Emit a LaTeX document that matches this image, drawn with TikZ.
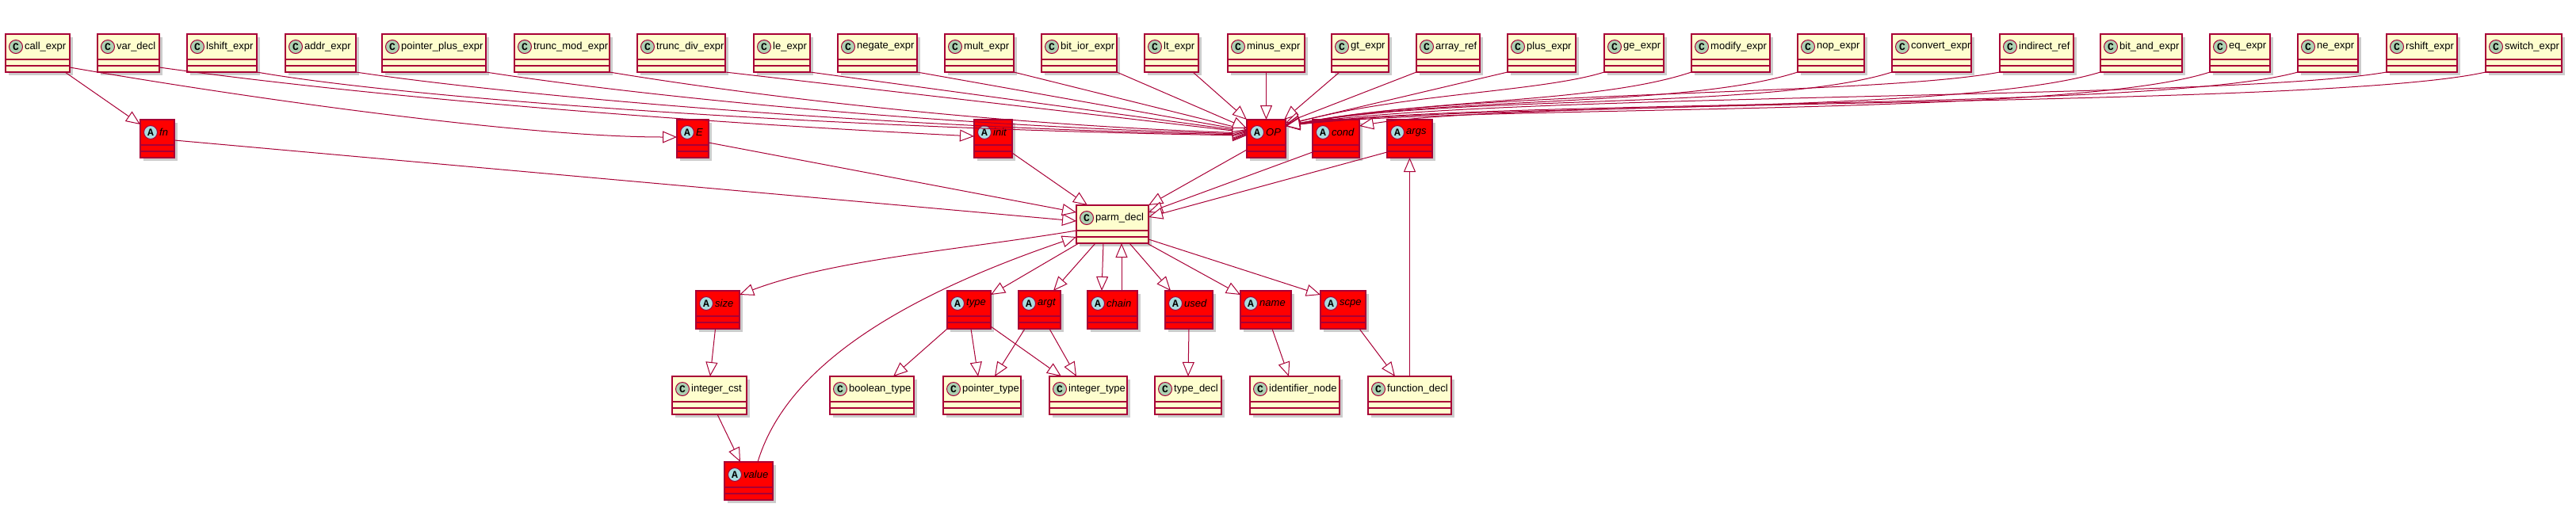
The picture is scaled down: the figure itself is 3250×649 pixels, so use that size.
\documentclass[tikz,border=0pt]{standalone}
\usepackage{fontspec}
\setmainfont{Liberation Sans}
\setmonofont{Liberation Mono}
\usetikzlibrary{arrows.meta,shadows}
\definecolor{umlred}{HTML}{A80036}
\definecolor{clsfill}{HTML}{FEFECE}
\definecolor{absfill}{HTML}{FF0000}
\definecolor{cgreen}{HTML}{ADD1B2}
\definecolor{ablue}{HTML}{A9DCDF}
\newcommand\lblfont{\fontsize{13}{15}\selectfont}
\newcommand\letfont{\fontsize{13}{13}\selectfont\ttfamily\bfseries}
\tikzset{
 boxbase/.style={rectangle, draw=umlred, line width=1.5pt, minimum height=48, inner sep=0, outer sep=0,
   drop shadow={shadow xshift=4pt, shadow yshift=-4pt, fill=black!40, opacity=0.5}},
 clsbox/.style={boxbase, fill=clsfill},
 absbox/.style={boxbase, fill=absfill},
 bline/.style={draw=umlred, line width=1.5pt},
 letc/.style={circle, draw=umlred, line width=1pt, fill=cgreen, minimum size=17, inner sep=0, font=\letfont},
 leta/.style={letc, fill=ablue},
 clslbl/.style={anchor=west, inner sep=0, font=\lblfont},
 abslbl/.style={anchor=west, inner sep=0, font=\lblfont\itshape},
 ext/.style={draw=umlred, line width=1pt, -{Triangle[length=18pt,width=15pt,fill=white]}},
}
\newcommand\boxlines[1]{%
  \draw[bline] ([yshift=-32]#1.north west) -- ([yshift=-32]#1.north east)
    ([yshift=-40]#1.north west) -- ([yshift=-40]#1.north east);}
\newcommand\cnode[5]{%
  \node[clsbox, minimum width={#3-#2}, anchor=north west] (#1) at (#2,#4) {};
  \boxlines{#1}%
  \node[letc] (#1c) at ([xshift=13,yshift=-16]#1.north west) {C};
  \node[clslbl] (#1t) at ([xshift=24,yshift=-16]#1.north west) {#5};}
\newcommand\anode[5]{%
  \node[absbox, minimum width={#3-#2}, anchor=north west] (#1) at (#2,#4) {};
  \boxlines{#1}%
  \node[leta] (#1c) at ([xshift=13,yshift=-16]#1.north west) {A};
  \node[abslbl] (#1t) at ([xshift=24,yshift=-16]#1.north west) {#5};}
\begin{document}
\begin{tikzpicture}[x=1pt,y=-1pt]
\useasboundingbox (0,0) rectangle (3250,649);
% top row
\cnode{callexpr}{7}{88}{43}{call\_expr}
\cnode{vardecl}{123}{201}{43}{var\_decl}
\cnode{lshift}{236}{324}{43}{lshift\_expr}
\cnode{addr}{360}{449}{43}{addr\_expr}
\cnode{ptrplus}{482}{613}{43}{pointer\_plus\_expr}
\cnode{truncmod}{649}{769}{43}{trunc\_mod\_expr}
\cnode{truncdiv}{804}{915}{43}{trunc\_div\_expr}
\cnode{leexpr}{951}{1022}{43}{le\_expr}
\cnode{negate}{1057}{1157}{43}{negate\_expr}
\cnode{mult}{1192}{1279}{43}{mult\_expr}
\cnode{bitior}{1314}{1409}{43}{bit\_ior\_expr}
\cnode{ltexpr}{1444}{1512}{43}{lt\_expr}
\cnode{minus}{1549}{1646}{43}{minus\_expr}
\cnode{gtexpr}{1680}{1752}{43}{gt\_expr}
\cnode{arrayref}{1787}{1867}{43}{array\_ref}
\cnode{plus}{1902}{1988}{43}{plus\_expr}
\cnode{geexpr}{2024}{2099}{43}{ge\_expr}
\cnode{modify}{2134}{2233}{43}{modify\_expr}
\cnode{nop}{2268}{2352}{43}{nop\_expr}
\cnode{convert}{2387}{2487}{43}{convert\_expr}
\cnode{indirect}{2523}{2616}{43}{indirect\_ref}
\cnode{bitand}{2650}{2753}{43}{bit\_and\_expr}
\cnode{eqexpr}{2788}{2864}{43}{eq\_expr}
\cnode{neexpr}{2899}{2975}{43}{ne\_expr}
\cnode{rshift}{3011}{3100}{43}{rshift\_expr}
\cnode{switch}{3136}{3232}{43}{switch\_expr}
% second row
\anode{fn}{177}{220}{151}{fn}
\anode{E}{854}{894}{151}{E}
\anode{init}{1229}{1277}{151}{init}
\anode{OP}{1573}{1622}{151}{OP}
\anode{cond}{1656}{1715}{151}{cond}
\anode{args}{1750}{1807}{151}{args}
% parm_decl
\cnode{parmdecl}{1358}{1449}{259}{parm\_decl}
% third row
\anode{size}{878}{933}{367}{size}
\anode{type}{1195}{1250}{367}{type}
\anode{argt}{1285}{1338}{367}{argt}
\anode{chain}{1372}{1435}{367}{chain}
\anode{used}{1470}{1530}{367}{used}
\anode{name}{1565}{1629}{367}{name}
\anode{scpe}{1666}{1723}{367}{scpe}
% fourth row
\cnode{intcst}{848}{942}{475}{integer\_cst}
\cnode{booltype}{1047}{1153}{475}{boolean\_type}
\cnode{ptrtype}{1190}{1288}{475}{pointer\_type}
\cnode{inttype}{1324}{1422}{475}{integer\_type}
\cnode{typedecl}{1457}{1541}{475}{type\_decl}
\cnode{ident}{1577}{1690}{475}{identifier\_node}
\cnode{fundecl}{1726}{1831}{475}{function\_decl}
% fifth row
\anode{value}{914}{975}{583}{value}

% edges: top row
\draw[ext] ([xshift=-6]callexpr.south east) -- ([yshift=-6]fn.north west);
\draw[ext] ([yshift=-18]callexpr.east) .. controls +(200,35) and +(-200,0) .. ([yshift=2]E.west);
\draw[ext] ([yshift=-18]vardecl.east) .. controls +(250,35) and +(-400,-20) .. ([yshift=3]init.west);
\draw[ext] (lshift.south east) .. controls +(200,35) and +(-500,-8) .. ([yshift=4]OP.west);
\draw[ext] (addr.south east) .. controls +(200,30) and +(-450,-8) .. ([yshift=5]OP.west);
\draw[ext] (ptrplus.south east) .. controls +(180,28) and +(-400,-10) .. ([yshift=6]OP.west);
\draw[ext] (truncmod.south east) .. controls +(150,25) and +(-350,-12) .. ([yshift=7]OP.west);
\draw[ext] (truncdiv.south east) -- ([yshift=8]OP.west);
\draw[ext] (leexpr.south east) -- ([yshift=9]OP.west);
\draw[ext] (negate.south east) -- ([yshift=10]OP.west);
\draw[ext] (mult.south east) -- ([yshift=11]OP.west);
\draw[ext] (bitior.south east) -- ([yshift=13]OP.west);
\draw[ext] ([xshift=27]ltexpr.south) -- (OP.north west);
\draw[ext] (minus.south) -- (OP.north);
\draw[ext] ([xshift=-26]gtexpr.south) -- ([xshift=-2]OP.north east);
\draw[ext] (arrayref.south west) -- ([yshift=-4]OP.north east);
\draw[ext] (plus.south west) -- ([yshift=-6]OP.north east);
\draw[ext] (geexpr.south west) .. controls +(-80,25) and +(150,-40) .. ([yshift=-7]OP.north east);
\draw[ext] (modify.south west) .. controls +(-120,40) and +(180,-35) .. ([yshift=-8]OP.north east);
\draw[ext] (nop.south west) .. controls +(-140,45) and +(200,-38) .. ([yshift=-8]OP.north east);
\draw[ext] (convert.south west) .. controls +(-150,48) and +(210,-40) .. ([yshift=-8]OP.north east);
\draw[ext] (indirect.south west) .. controls +(-160,30) and +(220,-45) .. ([yshift=-8]OP.north east);
\draw[ext] (bitand.south west) .. controls +(-180,55) and +(230,-30) .. ([yshift=-8]OP.north east);
\draw[ext] (eqexpr.south west) .. controls +(-180,58) and +(240,-28) .. ([yshift=-8]OP.north east);
\draw[ext] (neexpr.south west) .. controls +(-180,50) and +(250,-35) .. ([yshift=-8]OP.north east);
\draw[ext] (rshift.south west) .. controls +(-200,35) and +(260,-42) .. ([yshift=-8]OP.north east);
\draw[ext] (switch.south west) .. controls +(-200,45) and +(200,-35) .. ([yshift=-8]cond.north east);

% edges: second row to parm_decl
\draw[ext] ([yshift=-2]fn.east) -- ([yshift=4]parmdecl.west);
\draw[ext] ([yshift=-5]E.east) -- ([yshift=15]parmdecl.west);
\draw[ext] ([yshift=6]init.south east) -- ([xshift=14]parmdecl.north west);
\draw[ext] ([yshift=10]OP.south west) -- (parmdecl.north east);
\draw[ext] ([yshift=7]cond.south west) -- ([yshift=15]parmdecl.east);
\draw[ext] ([yshift=7]args.south west) -- ([yshift=9]parmdecl.east);

% edges: parm_decl to third row
\draw[ext] ([yshift=-8]parmdecl.west) .. controls +(-150,25) and +(120,-45) .. ([yshift=-5]size.north east);
\draw[ext] ([xshift=11.5]value.north) .. controls +(34,-113) and +(-238,81) .. ([yshift=-16]parmdecl.west);
\draw[ext] ([xshift=3]parmdecl.south west) -- ([yshift=-5]type.north east);
\draw[ext] ([xshift=24]parmdecl.south west) -- ([xshift=-9]argt.north east);
\draw[ext] ([xshift=34]parmdecl.south west) -- ([xshift=18]chain.north west);
\draw[ext] ([xshift=43]chain.north west) -- ([xshift=57]parmdecl.south west);
\draw[ext] ([xshift=67]parmdecl.south west) -- ([xshift=7]used.north west);
\draw[ext] ([xshift=-2]parmdecl.south east) -- ([yshift=-5]name.north west);
\draw[ext] ([yshift=5]parmdecl.south east) -- ([yshift=-5]scpe.north west);

% edges: third row to fourth row
\draw[ext] ([xshift=-3]size.south) -- ([xshift=1]intcst.north);
\draw[ext] ([xshift=10]intcst.south) -- ([xshift=-10.5]value.north);
\draw[ext] (type.south west) -- ([xshift=27]booltype.north);
\draw[ext] ([xshift=2.5]type.south) -- ([xshift=-5]ptrtype.north);
\draw[ext] ([yshift=3]type.south east) -- ([xshift=-34]inttype.north);
\draw[ext] ([xshift=-18.5]argt.south) -- ([xshift=16]ptrtype.north);
\draw[ext] ([xshift=12.5]argt.south) -- ([xshift=-15]inttype.north);
\draw[ext] (used.south) -- (typedecl.north);
\draw[ext] ([xshift=8]name.south) -- ([xshift=-7.5]ident.north);
\draw[ext] ([xshift=20.5]scpe.south) -- ([xshift=-18.5]fundecl.north);
\draw[ext] (fundecl.north) -- (args.south);
\end{tikzpicture}
\end{document}
